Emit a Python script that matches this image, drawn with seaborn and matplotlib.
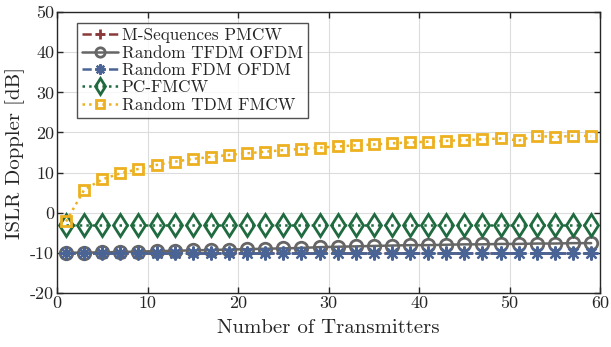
import numpy as np
import pandas as pd
import matplotlib
matplotlib.use("Agg")
import matplotlib.pyplot as plt
import seaborn as sns

# ---- data ----
n_tx = list(range(1, 60, 2))

mseq_pmcw = [-10.0] * 30
tfdm_ofdm = [-10.0, -9.95, -9.9, -9.8, -9.7, -9.6, -9.5, -9.4, -9.3, -9.2,
             -9.1, -9.0, -8.9, -8.8, -8.6, -8.5, -8.4, -8.3, -8.2, -8.1,
             -8.1, -8.0, -7.9, -7.9, -7.8, -7.8, -7.7, -7.7, -7.6, -7.6]
fdm_ofdm = [-10.0] * 30
pc_fmcw = [-3.0] * 30
tdm_fmcw = [-2.2, 5.7, 8.3, 9.8, 10.9, 11.9, 12.7, 13.4, 13.9, 14.4,
            14.8, 15.2, 15.6, 15.9, 16.2, 16.5, 16.8, 17.0, 17.3, 17.5,
            17.7, 17.9, 18.1, 18.3, 18.5, 18.0, 19.2, 18.8, 19.2, 19.1]

labels = ["M-Sequences PMCW", "Random TFDM OFDM", "Random FDM OFDM",
          "PC-FMCW", "Random TDM FMCW"]
series = [mseq_pmcw, tfdm_ofdm, fdm_ofdm, pc_fmcw, tdm_fmcw]
colors = ["#8A3A3A", "#666666", "#4A6496", "#1F6B3F", "#EDB120"]
markers = ["+", "o", (8, 2, 0), "d", "s"]
styles = ["--", "-", "--", ":", ":"]
msizes = [9, 9, 10, 11.5, 7]
mews = [2.0, 2.0, 1.6, 2.0, 2.0]

xticks = [0, 10, 20, 30, 40, 50, 60]
yticks = [-20, -10, 0, 10, 20, 30, 40, 50]

sns.set_theme(style="whitegrid")
plt.rcParams["font.family"] = ["cmr10", "DejaVu Serif"]
plt.rcParams["axes.unicode_minus"] = False
plt.rcParams["mathtext.fontset"] = "cm"

fig = plt.figure(figsize=(6.11, 3.47), dpi=100)
ax = fig.add_axes([0.0933, 0.156, 0.889, 0.809])

for lab, vals, c, m, ls, ms, mew in zip(labels, series, colors, markers, styles, msizes, mews):
    df = pd.DataFrame({"x": n_tx, "y": vals})
    sns.lineplot(data=df, x="x", y="y", ax=ax, label=lab, color=c, marker=m,
                 linestyle=ls, linewidth=1.8, markersize=ms, markeredgewidth=mew,
                 markeredgecolor=c, markerfacecolor="none")

ax.set_xlim(0, 60)
ax.set_ylim(-20, 50)
ax.set_xticks(xticks)
ax.set_yticks(yticks)
ax.set_xlabel("Number of Transmitters", fontsize=15, labelpad=6)
ax.set_ylabel("ISLR Doppler [dB]", fontsize=15)
ax.tick_params(direction="in", length=4, width=1, labelsize=13, top=True, right=True,
               bottom=True, left=True, colors="#262626", pad=2)
ax.grid(True, color="#DCDCDC", linewidth=0.8)
for s in ax.spines.values():
    s.set_color("#262626")
    s.set_linewidth(1.0)

leg = ax.legend(loc="upper left", bbox_to_anchor=(0.037, 0.962), fontsize=12.4,
                frameon=True, fancybox=False, edgecolor="#262626", markerscale=0.75,
                handlelength=2.1, handletextpad=0.2, borderpad=0.3, labelspacing=0.12,
                borderaxespad=0)
leg.get_frame().set_linewidth(1.0)

fig.savefig("out.png", dpi=100)
